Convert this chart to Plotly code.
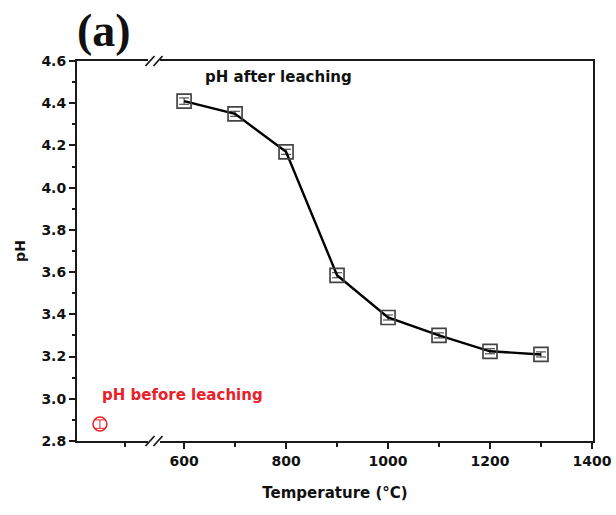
import plotly.graph_objects as go

# Data
temperature = [600, 700, 800, 900, 1000, 1100, 1200, 1300]
ph_after = [4.41, 4.35, 4.17, 3.585, 3.385, 3.30, 3.225, 3.21]
ph_after_err = [0.015, 0.012, 0.012, 0.012, 0.012, 0.012, 0.012, 0.012]
before_x = [435]
ph_before = [2.88]
ph_before_err = [0.02]
x_major_ticks = [600, 800, 1000, 1200, 1400]
x_minor_ticks = [484, 700, 900, 1100, 1300]
y_ticks = [2.8, 3.0, 3.2, 3.4, 3.6, 3.8, 4.0, 4.2, 4.4, 4.6]

BREAK_X = 541
AX = "#1a1a1a"
SANS = "DejaVu Sans, Liberation Sans, Arial"

fig = go.Figure()
fig.add_trace(go.Scatter(
    x=temperature, y=ph_after, mode="lines+markers",
    line=dict(color="black", width=2.4),
    marker=dict(symbol="square-open", size=14, color="#444", line=dict(width=1.7)),
    error_y=dict(type="data", array=ph_after_err, visible=True, color="#333", thickness=1, width=5),
    showlegend=False,
))
fig.add_trace(go.Scatter(
    x=before_x, y=ph_before, mode="markers",
    marker=dict(symbol="circle-open", size=14, color="#e8212b", line=dict(width=1.5)),
    error_y=dict(type="data", array=ph_before_err, visible=True, color="#e8212b", thickness=1, width=5),
    showlegend=False,
))

fig.update_layout(
    width=616, height=515,
    margin=dict(l=77, r=23, t=61, b=74, autoexpand=False),
    plot_bgcolor="white", paper_bgcolor="white",
    xaxis=dict(
        range=[390, 1402], tickvals=x_major_ticks, ticktext=[str(v) for v in x_major_ticks],
        ticks="outside", ticklen=6, tickwidth=1.5, tickcolor=AX,
        minor=dict(tickvals=x_minor_ticks, ticks="outside", ticklen=4, tickwidth=1.5, tickcolor=AX),
        showline=True, linecolor=AX, linewidth=2, mirror=True,
        showgrid=False, zeroline=False, automargin=False,
        tickfont=dict(family=SANS, size=14, color="#111", weight="bold"),
        title=dict(text="<b>Temperature (°C)</b>", font=dict(family=SANS, size=15, color="#111"), standoff=20),
    ),
    yaxis=dict(
        range=[2.8, 4.6], tickvals=y_ticks, ticktext=[f"{v:.1f}" for v in y_ticks],
        ticks="outside", ticklen=6, tickwidth=1.5, tickcolor=AX,
        minor=dict(dtick=0.1, tick0=2.8, ticks="outside", ticklen=3, tickwidth=1.5, tickcolor=AX),
        showline=True, linecolor=AX, linewidth=2, mirror=True,
        showgrid=False, zeroline=False, automargin=False,
        tickfont=dict(family=SANS, size=14, color="#111", weight="bold"),
        title=dict(text="<b>pH</b>", font=dict(family=SANS, size=14, color="#111"), standoff=12),
    ),
)

# axis break marks
px_x = 1 / 516
px_y = 1 / 380
shapes = []
for yb in (0, 1):
    shapes.append(dict(type="rect", xref="x", yref="paper",
                       x0=BREAK_X - 6 * 1.96, x1=BREAK_X + 6 * 1.96,
                       y0=yb - 3 * px_y, y1=yb + 3 * px_y,
                       fillcolor="white", line=dict(width=0), layer="above"))
    for dx in (-4, 4):
        shapes.append(dict(type="line", xref="x", yref="paper",
                           x0=BREAK_X + (dx - 4.5) * 1.96, x1=BREAK_X + (dx + 4.5) * 1.96,
                           y0=yb - 5 * px_y, y1=yb + 5 * px_y,
                           line=dict(color=AX, width=1.8), layer="above"))
fig.update_layout(shapes=shapes)

fig.add_annotation(x=785, y=4.525, xref="x", yref="y", text="<b>pH after leaching</b>",
                   showarrow=False, font=dict(family=SANS, size=15, color="#111"))
fig.add_annotation(x=596, y=3.02, xref="x", yref="y", text="<b>pH before leaching</b>",
                   showarrow=False, font=dict(family=SANS, size=15, color="#e8212b"))
fig.add_annotation(x=(104 - 77) / 516, y=1 + (61 - 30) / 380, xref="paper", yref="paper",
                   xanchor="center", yanchor="middle", text="<b>(a)</b>",
                   showarrow=False, font=dict(family="Liberation Serif, Times New Roman", size=46, color="#111"))

fig.write_html("out.html", config={"displayModeBar": False},
               post_script="document.body.style.margin='0';")
